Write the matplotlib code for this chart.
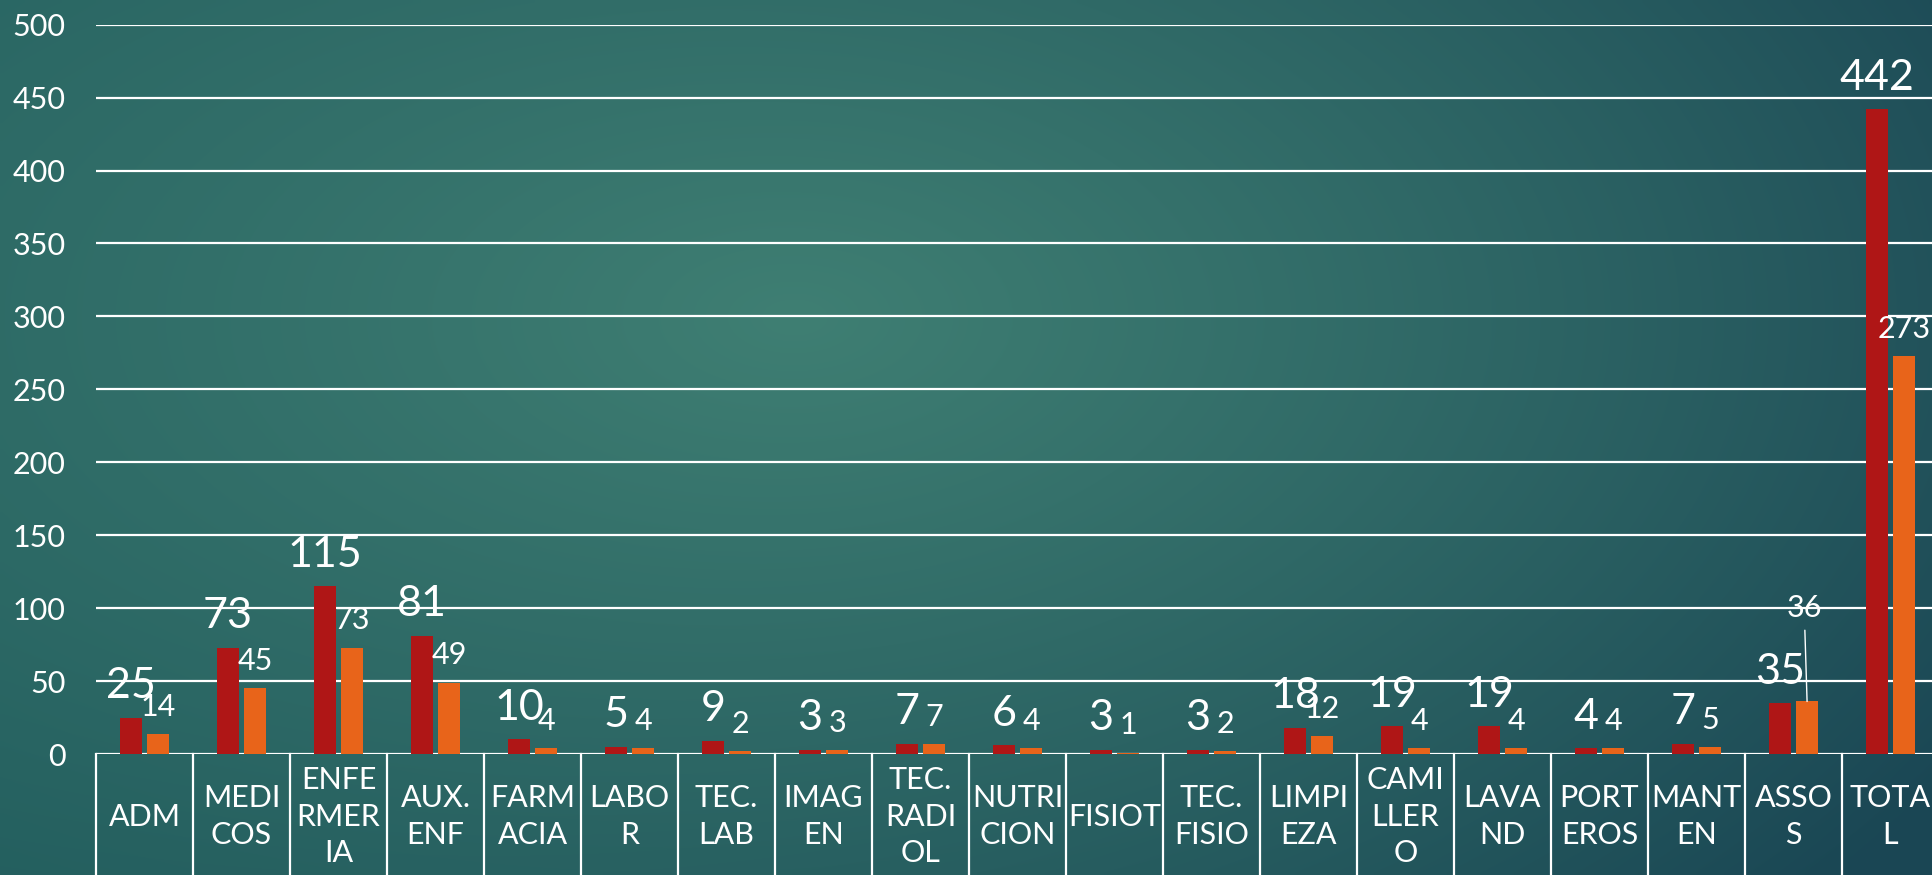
import numpy as np
import matplotlib
matplotlib.use("Agg")
import matplotlib.pyplot as plt
from matplotlib.colors import to_rgb

plt.rcParams['font.family'] = ['Lato', 'DejaVu Sans']

# datos
categorias = ["ADM", "MEDI\nCOS", "ENFE\nRMER\nIA", "AUX.\nENF", "FARM\nACIA",
              "LABO\nR", "TEC.\nLAB", "IMAG\nEN", "TEC.\nRADI\nOL", "NUTRI\nCION",
              "FISIOT", "TEC.\nFISIO", "LIMPI\nEZA", "CAMI\nLLER\nO", "LAVA\nND",
              "PORT\nEROS", "MANT\nEN", "ASSO\nS", "TOTA\nL"]
serie_roja = [25, 73, 115, 81, 10, 5, 9, 3, 7, 6, 3, 3, 18, 19, 19, 4, 7, 35, 442]
serie_naranja = [14, 45, 73, 49, 4, 4, 2, 3, 7, 4, 1, 2, 12, 4, 4, 4, 5, 36, 273]
ticks_y = [0, 50, 100, 150, 200, 250, 300, 350, 400, 450, 500]

rojo = '#AF1616'
naranja = '#E8641A'

fig = plt.figure(figsize=(19.33, 8.75), dpi=100)

# fondo degradado
bg = fig.add_axes([0, 0, 1, 1])
bg.set_axis_off()
H, W = 175, 387
yy, xx = np.mgrid[0:H, 0:W]
xn = xx / W
yn = yy / H
d = np.sqrt(((xn - 0.41) / 0.75) ** 2 + ((yn - 0.36) / 0.9) ** 2)
t = np.clip(d, 0, 1)[..., None]
centro = np.array(to_rgb('#3F7F73'))
borde_izq = np.array(to_rgb('#215C5D'))
borde_der = np.array(to_rgb('#1A4654'))
borde = borde_izq * (1 - xn[..., None]) + borde_der * xn[..., None]
img = centro * (1 - t) + borde * t
bg.imshow(img, extent=[0, 1, 0, 1], aspect='auto', interpolation='bilinear')
bg.set_xlim(0, 1)
bg.set_ylim(0, 1)

ax = fig.add_axes([96 / 1933, 121 / 875, 1843 / 1933, 729.3 / 875])
ax.patch.set_alpha(0)
x = np.arange(len(categorias))
ancho = 0.23
ax.bar(x - 0.14, serie_roja, ancho, color=rojo, zorder=3)
ax.bar(x + 0.14, serie_naranja, ancho, color=naranja, zorder=3)

ax.set_xlim(-0.5, len(categorias) - 0.5)
ax.set_ylim(0, 500)
ax.set_yticks(ticks_y)
ax.set_xticks([])
ax.tick_params(axis='y', length=0, pad=22, labelsize=22, labelcolor='white')
for s in ax.spines.values():
    s.set_visible(False)
for v in ticks_y:
    ax.axhline(v, color='white', lw=1.6, zorder=1)

# tabla de categorias
for b in np.arange(-0.5, len(categorias), 1.0):
    ax.plot([b, b], [0, -120], color='white', lw=1.6, clip_on=False, zorder=2)
for i, c in enumerate(categorias):
    ax.text(i, -43, c, ha='center', va='center', fontsize=22, color='white',
            linespacing=1.38, clip_on=False)

# etiquetas de datos
for i, v in enumerate(serie_roja):
    ax.annotate(str(v), (i - 0.14, v), xytext=(0, 14), textcoords='offset points',
                ha='center', va='baseline', fontsize=31, color='white', zorder=4)
for i, v in enumerate(serie_naranja):
    if categorias[i] == "ASSO\nS":
        ax.annotate(str(v), (i + 0.14, v), xytext=(i + 0.11, 94), textcoords='data',
                    ha='center', va='baseline', fontsize=22, color='white', zorder=4,
                    arrowprops=dict(arrowstyle='-', color='white', lw=1,
                                    shrinkA=4, shrinkB=0))
    else:
        ax.annotate(str(v), (i + 0.14, v), xytext=(0, 13), textcoords='offset points',
                    ha='center', va='baseline', fontsize=22, color='white', zorder=4)

fig.savefig('out.png', dpi=100)
